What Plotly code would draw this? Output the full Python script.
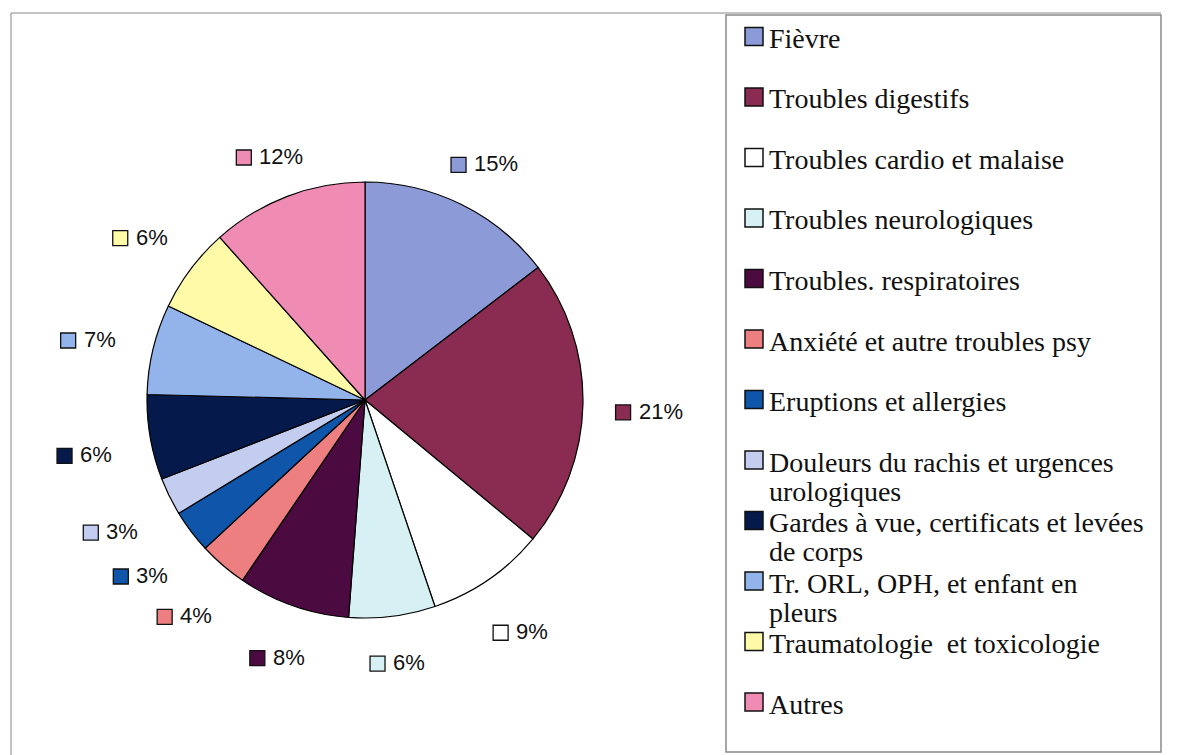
import math
import plotly.graph_objects as go

# ---------------- data ----------------
categories = [
    "Fièvre",
    "Troubles digestifs",
    "Troubles cardio et malaise",
    "Troubles neurologiques",
    "Troubles. respiratoires",
    "Anxiété et autre troubles psy",
    "Eruptions et allergies",
    "Douleurs du rachis et urgences<br>urologiques",
    "Gardes à vue, certificats et levées<br>de corps",
    "Tr. ORL, OPH, et enfant en<br>pleurs",
    "Traumatologie  et toxicologie",
    "Autres",
]
values = [14.6, 21.4, 8.8, 6.4, 8.3, 3.6, 3.2, 2.8, 6.3, 6.7, 6.3, 11.6]
colors = [
    "#8c9bd7", "#8a2b52", "#ffffff", "#d6f0f3", "#4b0a40", "#ee7f80",
    "#0f55aa", "#c3cdf0", "#06194b", "#92b4eb", "#fffaa8", "#f08cb4",
]

# ---------------- geometry ----------------
W, H = 1182, 755
CX, CY, R = 365, 400, 218


def px(x):
    return x / W


def py(y):
    return 1 - y / H


fig = go.Figure()
fig.add_trace(go.Pie(
    labels=[c.replace("<br>", " ") for c in categories],
    values=values,
    sort=False,
    direction="clockwise",
    rotation=0,
    marker=dict(colors=colors, line=dict(color="#000000", width=1.2)),
    textinfo="none",
    showlegend=False,
    hoverinfo="label+percent",
    domain=dict(x=[px(CX - R), px(CX + R)], y=[py(CY + R), py(CY - R)]),
))

shapes = []
annotations = []

# outer chart frame (left and top edges)
shapes.append(dict(type="line", xref="paper", yref="paper",
                   x0=px(11), x1=px(11), y0=py(755), y1=py(13),
                   line=dict(color="#9a9a9a", width=1.2)))
shapes.append(dict(type="line", xref="paper", yref="paper",
                   x0=px(11), x1=px(1161), y0=py(13), y1=py(13),
                   line=dict(color="#8a8a8a", width=1.2)))
# legend box
shapes.append(dict(type="rect", xref="paper", yref="paper",
                   x0=px(726), x1=px(1161), y0=py(752), y1=py(15),
                   line=dict(color="#8a8a8a", width=1.5), fillcolor="#ffffff"))

# percentage labels placed outside each slice
total = sum(values)
cum = 0.0
LBL_FONT = 22
SQ = 15
for v, col in zip(values, colors):
    mid = (cum + v / 2) / total * 2 * math.pi
    cum += v
    ux, uy = math.sin(mid), -math.cos(mid)
    support = abs(ux) * 38 + abs(uy) * 8
    dist = R + 28 + support
    gx, gy = CX + ux * dist, CY + uy * dist + 7
    txt = f"{round(v)}%"
    ndig = len(txt) - 1
    tw = LBL_FONT * (0.556 * ndig + 0.889)
    gw = SQ + 8 + tw
    x0 = gx - gw / 2
    shapes.append(dict(type="rect", xref="paper", yref="paper",
                       x0=px(x0), x1=px(x0 + SQ), y0=py(gy + SQ / 2), y1=py(gy - SQ / 2),
                       line=dict(color="#111111", width=1.3), fillcolor=col))
    annotations.append(dict(xref="paper", yref="paper", x=px(x0 + SQ + 6), y=py(gy - 1),
                            text=txt, showarrow=False, xanchor="left", yanchor="middle",
                            font=dict(family="Liberation Sans, Arial, sans-serif",
                                      size=LBL_FONT, color="#111111")))

# legend entries
LEG_FONT = 28
for i, (name, col) in enumerate(zip(categories, colors)):
    yc = 36.5 + 60.5 * i
    shapes.append(dict(type="rect", xref="paper", yref="paper",
                       x0=px(745), x1=px(763), y0=py(yc + 9), y1=py(yc - 9),
                       line=dict(color="#111111", width=1.5), fillcolor=col))
    for j, line in enumerate(name.split("<br>")):
        annotations.append(dict(xref="paper", yref="paper", x=px(767), y=py(yc + 2 + 29 * j),
                                text=line, showarrow=False, xanchor="left", yanchor="middle",
                                font=dict(family="Liberation Serif, Times New Roman, serif",
                                          size=LEG_FONT, color="#111111")))

fig.update_layout(
    width=W, height=H,
    margin=dict(l=0, r=0, t=0, b=0),
    paper_bgcolor="#ffffff",
    plot_bgcolor="#ffffff",
    shapes=shapes,
    annotations=annotations,
    showlegend=False,
)

fig.write_html(
    "out.html",
    config={"displayModeBar": False},
    post_script="document.body.style.margin='0';document.body.style.padding='0';"
                "document.body.style.overflow='hidden';",
)
